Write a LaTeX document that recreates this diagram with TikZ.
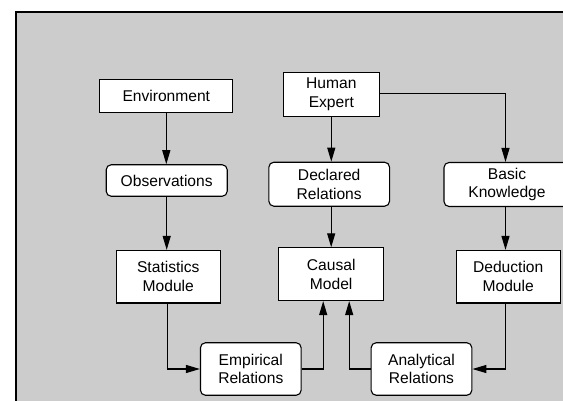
\documentclass[tikz,border=0pt]{standalone}
\usepackage{fontspec}
\setmainfont{Liberation Sans}
\usetikzlibrary{arrows.meta}
\definecolor{bg}{HTML}{CCCCCC}
\begin{document}
\begin{tikzpicture}[x=1pt,y=-1pt,
  box/.style={draw=black, fill=white, line width=1.1pt, inner sep=0pt, align=center,
    font=\fontsize{15.6}{18.8}\selectfont},
  rbox/.style={box, rounded corners=5pt},
  arr/.style={line width=1.2pt, -{Triangle[length=14pt,width=8pt]}}]
\useasboundingbox (0,0) rectangle (563,400);
\clip (0,0) rectangle (563,400);
\draw[line width=2.2pt, fill=bg] (16.2,12.2) rectangle (600,440);

\node[box,  minimum width=133pt,   minimum height=33pt]   (env)  at (166.3,96)    {Environment};
\node[rbox, minimum width=121pt,   minimum height=31.5pt] (obs)  at (166.7,180.5) {Observations};
\node[box,  minimum width=104.5pt, minimum height=52.5pt] (stat) at (168.3,276.7) {Statistics\\Module};
\node[box,  minimum width=96.5pt,  minimum height=44pt]   (he)   at (331.3,94.2)  {Human\\Expert};
\node[rbox, minimum width=120.7pt, minimum height=44pt]   (dec)  at (329.2,184.2) {Declared\\Relations};
\node[rbox, minimum width=126pt,   minimum height=44pt]   (bk)   at (507,184.5)   {Basic\\Knowledge};
\node[box,  minimum width=104.7pt, minimum height=52.7pt] (cm)   at (331.2,274.2) {Causal\\Model};
\node[box,  minimum width=104pt,   minimum height=52.5pt] (ded)  at (508.2,276.7) {Deduction\\Module};
\node[rbox, minimum width=100.7pt, minimum height=52.5pt] (emp)  at (250.8,369)   {Empirical\\Relations};
\node[rbox, minimum width=100.7pt, minimum height=52.5pt] (ana)  at (421.5,369)   {Analytical\\Relations};

\draw[arr] (env.south) -- (env.south |- obs.north);
\draw[arr] (obs.south) -- (obs.south |- stat.north);
\draw[arr] (he.south) -- (he.south |- dec.north);
\draw[arr] ([yshift=1pt]he.east) -| ([xshift=-1.5pt]bk.north);
\draw[arr] (cm.north |- dec.south) -- (cm.north);
\draw[arr] ([xshift=-1.5pt]bk.south) -- ([xshift=-1.5pt]bk.south |- ded.north);
\draw[arr] ([xshift=-1pt]stat.south) |- (emp.west);
\draw[arr] (emp.east) -| ([xshift=-8pt]cm.south);
\draw[arr] (ana.west) -| ([xshift=18pt]cm.south);
\draw[arr] ([xshift=-3pt]ded.south) |- (ana.east);
\end{tikzpicture}
\end{document}
